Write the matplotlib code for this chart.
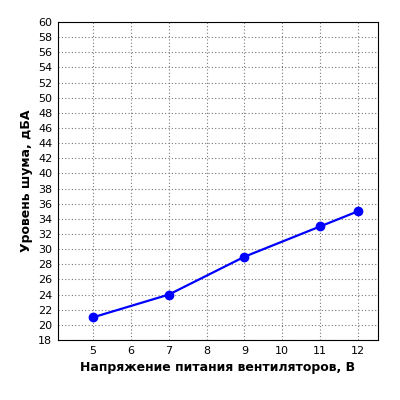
import matplotlib
matplotlib.use("Agg")
import matplotlib.pyplot as plt

voltage = [5, 7, 9, 11, 12]
noise = [21, 24, 29, 33, 35]
xticks = [5, 6, 7, 8, 9, 10, 11, 12]

fig = plt.figure(figsize=(4, 4), dpi=100)
ax = fig.add_axes([0.145, 0.15, 0.80, 0.795])
ax.plot(voltage, noise, color="#0000ff", lw=1.6, marker="o", ms=6)
ax.set_xlim(4.07, 12.53)
ax.set_ylim(18, 60)
ax.set_xticks(xticks)
ax.set_yticks(range(18, 61, 2))
ax.tick_params(labelsize=8, length=0, pad=4)
ax.grid(True, color="#777777", ls=(0, (1, 2)), lw=0.8)
for s in ax.spines.values():
    s.set_color("black")
ax.set_xlabel("Напряжение питания вентиляторов, В", fontsize=9, fontweight="bold")
ax.set_ylabel("Уровень шума, дБА", fontsize=9, fontweight="bold")
fig.savefig("out.png", dpi=100)
